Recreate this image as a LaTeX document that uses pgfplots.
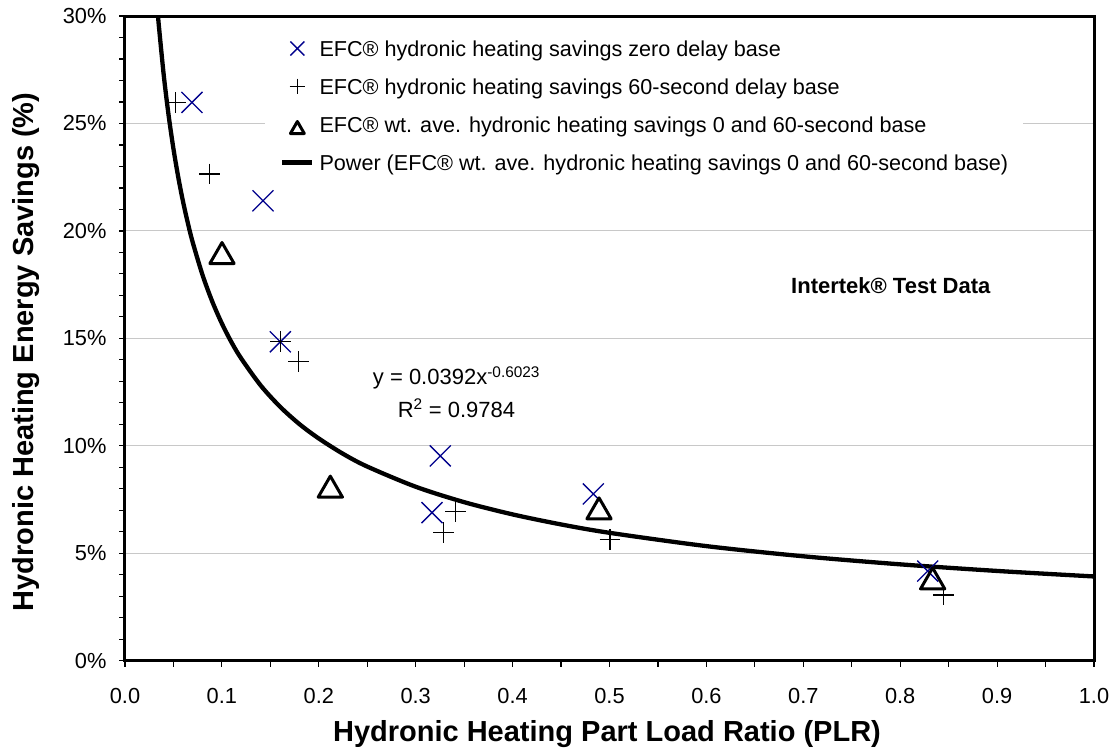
\documentclass[border=0pt]{standalone}
\usepackage{fontspec}
\setmainfont{Liberation Sans}
\usepackage{pgfplots}
\pgfplotsset{compat=1.18}
\definecolor{xblue}{RGB}{0,0,140}
\definecolor{gridgray}{RGB}{200,200,200}
\begin{document}
\begin{tikzpicture}
\useasboundingbox (-125pt,-87.3pt) rectangle (989pt,660.7pt);
\begin{axis}[
  at={(0pt,0pt)}, anchor=south west,
  scale only axis, width=969pt, height=644.7pt,
  xmin=0, xmax=1, ymin=0, ymax=30,
  xtick={0,0.1,0.2,0.3,0.4,0.5,0.6,0.7,0.8,0.9,1.0},
  ytick={0,5,10,15,20,25,30},
  minor x tick num=1, minor y tick num=4,
  tick align=outside, xtick pos=bottom, ytick pos=left,
  major tick length=6pt, minor tick length=6pt,
  every tick/.style={black, line width=1.2pt},
  axis line style={line width=3pt},
  ymajorgrids, grid style={gridgray, line width=1pt},
  /pgf/number format/assume math mode=true,
  tick label style={font=\fontsize{21.8}{25}\selectfont},
  xticklabel style={inner sep=0pt, anchor=base, yshift=-37pt,
    /pgf/number format/fixed, /pgf/number format/fixed zerofill, /pgf/number format/precision=1},
  yticklabel style={inner sep=0pt, anchor=east, xshift=-12.3pt},
  yticklabel={\pgfmathprintnumber{\tick}\%},
  xlabel={Hydronic Heating Part Load Ratio (PLR)},
  ylabel={Hydronic Heating Energy Savings (\%)},
  every axis x label/.style={at={(rel axis cs:0.4974,-0.1256)}, anchor=base,
    font=\bfseries\fontsize{29}{34}\selectfont},
  every axis y label/.style={at={(rel axis cs:-0.0949,0.4788)}, rotate=90, anchor=base,
    font=\bfseries\fontsize{29}{34}\selectfont},
  legend style={at={(axis cs:0.1445,29.195)}, anchor=north west, draw=none, fill=white,
    inner xsep=15pt, inner ysep=4pt, row sep=16pt, column sep=5pt,
    font=\fontsize{21.6}{25}\selectfont,
    nodes={inner sep=0pt, text height=18.7pt, text depth=3.3pt}},
  legend cell align=left,
]
\addplot[only marks, mark=x, mark size=14.85pt, color=xblue, mark options={line width=1.3pt},
  legend image code/.code={\draw[only marks, mark=x, color=xblue, mark size=9.9pt, line width=1.2pt] plot coordinates {(15pt,0pt)};}]
  coordinates {(0.0691,25.98) (0.1424,21.40) (0.1603,14.84) (0.3254,9.53) (0.3168,6.89) (0.4833,7.76) (0.8284,4.17)};
\addlegendentry{EFC® hydronic heating savings zero delay base}
\addplot[only marks, mark=+, mark size=10.3pt, color=black, mark options={line width=1.3pt},
  legend image code/.code={\draw[only marks, mark=+, color=black, mark size=7.8pt, line width=1.2pt] plot coordinates {(15pt,0pt)};}]
  coordinates {(0.0519,25.97) (0.0874,22.65) (0.1603,14.84) (0.1793,13.91) (0.3409,6.93) (0.3289,5.96) (0.5005,5.65) (0.8445,3.06)};
\addlegendentry{EFC® hydronic heating savings 60-second delay base}
\addplot[only marks, mark=triangle, mark size=14pt, color=black, mark options={line width=3pt, line join=round, yshift=-3.5pt},
  legend image code/.code={\draw[only marks, mark=triangle, color=black, mark size=8pt, line width=1pt] plot coordinates {(15pt,-1.5pt)};}]
  coordinates {(0.1001,18.97) (0.2119,8.10) (0.4892,7.09) (0.8335,3.83)};
\addlegendentry{EFC® wt. ave. hydronic heating savings 0 and 60-second base}
\addplot[black, line width=4.3pt, smooth, no marks,
  legend image code/.code={\draw[black, line width=4.3pt] (0pt,0pt) -- (30pt,0pt);}]
  coordinates {(0.033,30.59) (0.03408,30.0) (0.035,29.52) (0.04,27.24) (0.045,25.38) (0.05,23.82) (0.055,22.49) (0.06,21.34) (0.065,20.34) (0.07,19.45) (0.08,17.95) (0.09,16.72) (0.1,15.69) (0.11,14.81) (0.12,14.06) (0.14,12.81) (0.16,11.82) (0.18,11.01) (0.2,10.34) (0.225,9.627) (0.25,9.034) (0.3,8.095) (0.35,7.378) (0.4,6.808) (0.45,6.341) (0.5,5.951) (0.6,5.332) (0.7,4.859) (0.8,4.484) (0.9,4.177) (1.0,3.92)};
\addlegendentry{Power (EFC® wt. ave. hydronic heating savings 0 and 60-second base)\hspace{50pt}}
\node[anchor=base, font=\fontsize{22}{26}\selectfont] at (axis cs:0.3421,12.83) {y = 0.0392x\textsuperscript{-0.6023}};
\node[anchor=base, font=\fontsize{22}{26}\selectfont] at (axis cs:0.3421,11.33) {R\textsuperscript{2} = 0.9784};
\node[anchor=base, font=\fontsize{22}{26}\selectfont\bfseries] at (axis cs:0.7903,17.10) {Intertek® Test Data};
\end{axis}
\end{tikzpicture}
\end{document}
